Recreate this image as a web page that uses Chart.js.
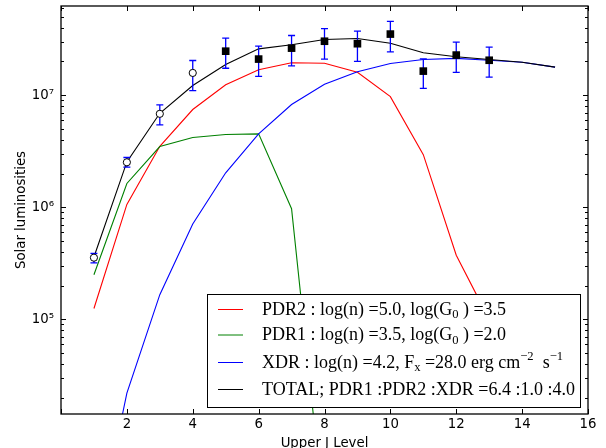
<!DOCTYPE html>
<html>
<head>
<meta charset="utf-8">
<script src="https://cdn.jsdelivr.net/npm/chart.js@4.4.0/dist/chart.umd.min.js"></script>
<style>
html, body { margin: 0; padding: 0; background: #fff; }
#wrap { width: 606px; height: 448px; }
</style>
</head>
<body>
<div id="wrap"><canvas id="co-sled" width="606" height="448"></canvas></div>
<script>
// CO ladder, model components
var levels = [1, 2, 3, 4, 5, 6, 7, 8, 9, 10, 11, 12, 13, 14, 15];
var pdr2 = [1.25e5, 1.06e6, 3.5e6, 7.45e6, 1.24e7, 1.69e7, 1.95e7, 1.93e7, 1.60e7, 9.7e6, 2.95e6, 3.73e5, 1.0e5, 4.5e4, 2.4e4];
var pdr1 = [2.5e5, 1.63e6, 3.48e6, 4.19e6, 4.46e6, 4.52e6, 9.7e5, 1.6e3, null, null, null, null, null, null, null];
var xdr = [8.4e2, 2.2e4, 1.66e5, 7.1e5, 2.03e6, 4.52e6, 8.26e6, 1.25e7, 1.62e7, 1.92e7, 2.08e7, 2.13e7, 2.05e7, 1.97e7, 1.78e7];
var total = [3.6e5, 2.54e6, 6.9e6, 1.22e7, 1.88e7, 2.59e7, 2.82e7, 3.14e7, 3.21e7, 2.91e7, 2.39e7, 2.20e7, 2.08e7, 1.97e7, 1.78e7];

// observed lines with error bars
var obsJ = [1, 2, 3, 4, 5, 6, 7, 8, 9, 10, 11, 12, 13];
var obsLum = [3.55e5, 2.52e6, 6.82e6, 1.58e7, 2.47e7, 2.10e7, 2.63e7, 3.03e7, 2.88e7, 3.51e7, 1.64e7, 2.28e7, 2.05e7];
var obsHi = [3.87e5, 2.78e6, 8.2e6, 2.04e7, 3.23e7, 2.74e7, 3.41e7, 3.92e7, 3.73e7, 4.55e7, 2.11e7, 2.97e7, 2.68e7];
var obsLo = [3.19e5, 2.28e6, 5.44e6, 1.10e7, 1.74e7, 1.47e7, 1.83e7, 2.10e7, 2.0e7, 2.44e7, 1.15e7, 1.60e7, 1.45e7];
var obsMarker = ['o', 'o', 'o', 'o', 's', 's', 's', 's', 's', 's', 's', 's', 's'];

var xTicks = [0, 2, 4, 6, 8, 10, 12, 14, 16];
var yRange = [1.43e4, 6.25e7];
var supDigits = { '4': '\u2074', '5': '\u2075', '6': '\u2076', '7': '\u2077' };

var legendRows = [
    { color: '#ff0000', parts: [['PDR2 : log(n) =5.0, log(G'], ['0', 'sub'], [' ) =3.5']] },
    { color: '#008000', parts: [['PDR1 : log(n) =3.5, log(G'], ['0', 'sub'], [' ) =2.0']] },
    { color: '#0000ff', parts: [['XDR : log(n) =4.2, F'], ['x', 'sub'], [' =28.0 erg cm'], ['\u22122', 'sup'], ['  s'], ['\u22121', 'sup']] },
    { color: '#000000', parts: [['TOTAL; PDR1 :PDR2 :XDR =6.4 :1.0 :4.0']] }
];

function pts(xs, ys) {
    return xs.map(function(x, i) { return { x: x, y: ys[i] }; });
}

(function() {
    var SANS = 'DejaVu Sans';
    var SERIF = 'Liberation Serif';

    var errorBars = {
        id: 'errorBars',
        beforeDatasetDraw: function(chart, args) {
            if (args.index !== 4) return;
            var ctx = chart.ctx, xs = chart.scales.x, ys = chart.scales.y;
            ctx.save();
            ctx.strokeStyle = '#0000ff';
            ctx.lineWidth = 1.3;
            obsJ.forEach(function(j, i) {
                var px = xs.getPixelForValue(j);
                var top = ys.getPixelForValue(obsHi[i]);
                var bot = ys.getPixelForValue(obsLo[i]);
                ctx.beginPath();
                ctx.moveTo(px, top); ctx.lineTo(px, bot);
                ctx.moveTo(px - 3.5, top); ctx.lineTo(px + 3.5, top);
                ctx.moveTo(px - 3.5, bot); ctx.lineTo(px + 3.5, bot);
                ctx.stroke();
            });
            ctx.restore();
        }
    };

    // matplotlib style frame with inward ticks
    var frame = {
        id: 'frame',
        afterDatasetsDraw: function(chart) {
            var ctx = chart.ctx, a = chart.chartArea, xs = chart.scales.x, ys = chart.scales.y;
            ctx.save();
            ctx.strokeStyle = '#000';
            ctx.lineWidth = 1;
            ctx.beginPath();
            ys.ticks.forEach(function(t) {
                var p = Math.round(ys.getPixelForValue(t.value)) + 0.5;
                var len = t.major ? 5 : 3;
                ctx.moveTo(a.left, p); ctx.lineTo(a.left + len, p);
                ctx.moveTo(a.right, p); ctx.lineTo(a.right - len, p);
            });
            xs.ticks.forEach(function(t) {
                var p = Math.round(xs.getPixelForValue(t.value)) + 0.5;
                ctx.moveTo(p, a.bottom); ctx.lineTo(p, a.bottom - 5);
                ctx.moveTo(p, a.top); ctx.lineTo(p, a.top + 5);
            });
            ctx.stroke();
            ctx.lineWidth = 1.3;
            ctx.strokeRect(a.left, a.top, a.right - a.left, a.bottom - a.top);
            ctx.restore();
        }
    };

    function drawParts(ctx, parts, x, y, size) {
        parts.forEach(function(p) {
            var s = size, dy = 0;
            if (p[1] === 'sub') { s = size * 0.7; dy = size * 0.22; }
            if (p[1] === 'sup') { s = size * 0.7; dy = -size * 0.42; }
            ctx.font = s + 'px "' + SERIF + '"';
            ctx.fillText(p[0], x, y + dy);
            x += ctx.measureText(p[0]).width;
        });
    }

    var mathLegend = {
        id: 'mathLegend',
        afterDraw: function(chart) {
            var ctx = chart.ctx;
            var box = { x: 207, y: 294, w: 373, h: 113 };
            var rowY = [309, 334.5, 362, 389];
            ctx.save();
            ctx.fillStyle = '#fff';
            ctx.fillRect(box.x, box.y, box.w, box.h);
            ctx.strokeStyle = '#000';
            ctx.lineWidth = 1;
            ctx.strokeRect(box.x + 0.5, box.y + 0.5, box.w, box.h);
            legendRows.forEach(function(r, i) {
                ctx.strokeStyle = r.color;
                ctx.lineWidth = 1;
                ctx.beginPath();
                ctx.moveTo(218, rowY[i] + 0.5);
                ctx.lineTo(243, rowY[i] + 0.5);
                ctx.stroke();
                ctx.fillStyle = '#000';
                ctx.textBaseline = 'alphabetic';
                drawParts(ctx, r.parts, 262, rowY[i] + 5.5, 18);
            });
            ctx.restore();
        }
    };

    var ctx = document.getElementById('co-sled').getContext('2d');

    new Chart(ctx, {
        type: 'line',
        data: {
            datasets: [{
                label: 'PDR2',
                data: pts(levels, pdr2),
                borderColor: '#ff0000',
                order: 4
            }, {
                label: 'PDR1',
                data: pts(levels, pdr1),
                borderColor: '#008000',
                order: 3
            }, {
                label: 'XDR',
                data: pts(levels, xdr),
                borderColor: '#0000ff',
                order: 2
            }, {
                label: 'TOTAL',
                data: pts(levels, total),
                borderColor: '#000000',
                order: 1
            }, {
                label: 'observed',
                data: pts(obsJ, obsLum),
                showLine: false,
                order: 0,
                pointStyle: function(c) { return obsMarker[c.dataIndex] === 'o' ? 'circle' : 'rect'; },
                pointRadius: function(c) { return obsMarker[c.dataIndex] === 'o' ? 3.6 : 5.4; },
                pointBackgroundColor: function(c) { return obsMarker[c.dataIndex] === 'o' ? '#ffffff' : '#000000'; },
                pointBorderColor: '#000000',
                pointBorderWidth: function(c) { return obsMarker[c.dataIndex] === 'o' ? 1 : 0; }
            }]
        },
        options: {
            responsive: false,
            animation: false,
            layout: { padding: { top: 6, right: 18, left: 0, bottom: 0 } },
            elements: {
                line: { borderWidth: 1.1, tension: 0, fill: false },
                point: { radius: 0, hoverRadius: 0 }
            },
            plugins: {
                legend: { display: false },
                tooltip: { enabled: false }
            },
            scales: {
                x: {
                    type: 'linear',
                    min: 0,
                    max: 16,
                    afterFit: function(s) {
                        s.height = 34;
                        s.paddingLeft = 0;
                        s.paddingRight = 0;
                    },
                    afterBuildTicks: function(s) {
                        s.ticks = xTicks.map(function(v) { return { value: v }; });
                    },
                    grid: { display: false, drawTicks: false },
                    border: { display: false },
                    ticks: {
                        padding: 3,
                        color: '#000',
                        font: { family: SANS, size: 13.3 },
                        callback: function(v) { return v === 0 ? '' : String(v); }
                    },
                    title: {
                        display: true,
                        text: 'Upper J Level',
                        color: '#000',
                        font: { family: SANS, size: 13.3 },
                        padding: { top: 0, bottom: -4 }
                    }
                },
                y: {
                    type: 'logarithmic',
                    min: yRange[0],
                    max: yRange[1],
                    afterFit: function(s) {
                        s.width = 61;
                        s.paddingTop = 0;
                        s.paddingBottom = 0;
                    },
                    afterBuildTicks: function(s) {
                        var t = [];
                        for (var e = 4; e <= 7; e++) {
                            for (var m = 1; m <= 9; m++) {
                                var v = m * Math.pow(10, e);
                                if (v >= s.min && v <= s.max) t.push({ value: v, major: m === 1 });
                            }
                        }
                        s.ticks = t;
                    },
                    grid: { display: false, drawTicks: false },
                    border: { display: false },
                    ticks: {
                        autoSkip: false,
                        padding: 7,
                        color: '#000',
                        font: { family: SANS, size: 13.3 },
                        callback: function(v) {
                            var e = Math.round(Math.log10(v));
                            if (Math.abs(v - Math.pow(10, e)) > 1e-6 * v) return '';
                            return '10' + supDigits[String(e)];
                        }
                    },
                    title: {
                        display: true,
                        text: 'Solar luminosities',
                        color: '#000',
                        font: { family: SANS, size: 13.3 },
                        padding: { top: 14, bottom: 0 }
                    }
                }
            }
        },
        plugins: [errorBars, frame, mathLegend]
    });
})();
</script>
</body>
</html>
